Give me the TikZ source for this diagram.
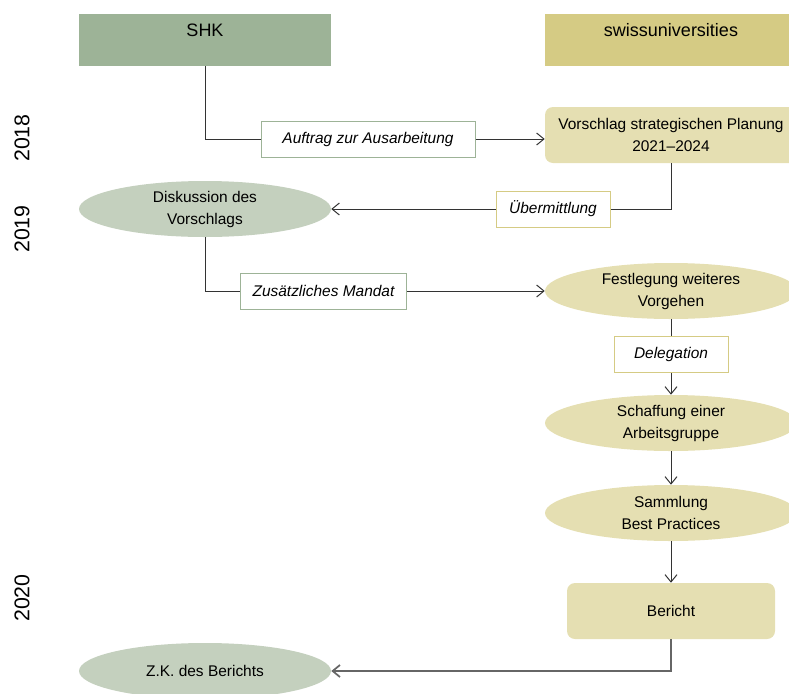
\documentclass[tikz,border=0pt]{standalone}
\usepackage{fontspec}
\setmainfont{Liberation Sans}
\usepackage{tikz}
\usetikzlibrary{positioning,arrows.meta,shapes.geometric}

\definecolor{shkdark}{RGB}{157,179,151}
\definecolor{shklight}{RGB}{196,208,190}
\definecolor{sudark}{RGB}{213,203,132}
\definecolor{sulight}{RGB}{229,223,178}
\newcommand{\txtsize}{\fontsize{11.6}{16.5}\selectfont}

\tikzset{
  head/.style={minimum width=189pt,minimum height=39pt,inner sep=0pt,font=\fontsize{13.5}{15}\selectfont,text height=9.5pt,text depth=14.5pt},
  stepnode/.style={ellipse,minimum width=189pt,minimum height=42pt,inner sep=0pt,align=center,font=\txtsize},
  roundbox/.style={rounded corners=6pt,minimum height=42pt,inner sep=0pt,align=center,font=\txtsize},
  lab/.style={draw,fill=white,minimum height=27pt,inner sep=0pt,line width=0.75pt,font={\txtsize\itshape}},
  conn/.style={draw=black!80,line width=0.75pt},
  arr/.style={conn,-{Straight Barb[length=5.5pt,width=9pt]}},
  year/.style={rotate=90,font=\fontsize{16}{19}\selectfont}
}

\begin{document}
\begin{tikzpicture}[x=0.75pt,y=-0.75pt]
    \useasboundingbox (0,0) rectangle (789,693);
    \clip (0,0) rectangle (789,693);
    \node[head,fill=shkdark] (shk) at (205,40) {SHK};
    \node[head,fill=sudark] (su) at (671,40) {swissuniversities};
    \node[year] (y18) at (22,138) {2018};
    \node[year] (y19) at (22,229) {2019};
    \node[year] (y20) at (22,598) {2020};
    \node[roundbox,fill=sulight,minimum width=189pt] (vor) at (671,135) {Vorschlag strategischen Planung\\2021--2024};
    \node[stepnode,fill=shklight] (disk) at (205,209) {Diskussion des\\Vorschlags};
    \node[stepnode,fill=sulight] (fest) at (671,291) {Festlegung weiteres\\Vorgehen};
    \node[stepnode,fill=sulight] (schaff) at (671,423) {Schaffung einer\\Arbeitsgruppe};
    \node[stepnode,fill=sulight] (samml) at (671,513) {Sammlung\\Best Practices};
    \node[roundbox,fill=sulight,minimum width=156pt] (ber) at (671,611) {Bericht};
    \node[stepnode,fill=shklight] (zk) at (205,671) {Z.K. des Berichts};
    \node[lab,draw=shkdark,minimum width=160.5pt] (auftrag) at (368,139) {Auftrag zur Ausarbeitung};
    \node[lab,draw=sudark,minimum width=85.5pt] (ueber) at (553,209) {Übermittlung};
    \node[lab,draw=shkdark,minimum width=125pt] (mandat) at (323.5,291) {Zusätzliches Mandat};
    \node[lab,draw=sudark,minimum width=85.5pt] (deleg) at (671,354.5) {Delegation};
    \draw[conn] (shk) |- (auftrag);
    \draw[arr] (auftrag) -- (vor.west |- auftrag);
    \draw[conn] (vor) |- (ueber);
    \draw[arr] (ueber) -- (disk);
    \draw[conn] (disk) |- (mandat);
    \draw[arr] (mandat) -- (fest);
    \draw[conn] (fest) -- (deleg);
    \draw[arr] (deleg) -- (schaff);
    \draw[arr] (schaff) -- (samml);
    \draw[arr] (samml) -- (ber);
    \draw[arr,draw=black!60,line width=1.3pt] (ber) |- (zk);
  \end{tikzpicture}
\end{document}
